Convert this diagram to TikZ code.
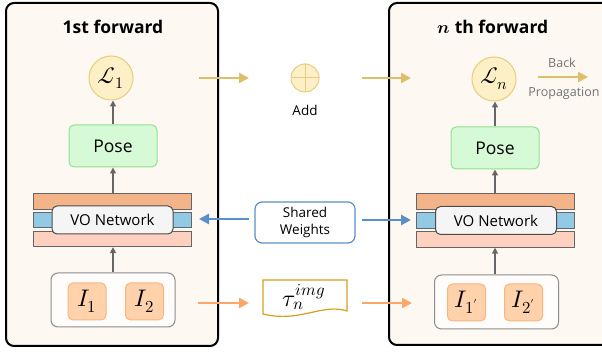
\documentclass[tikz,border=0pt]{standalone}
\usepackage{unicode-math}
\setmainfont{Open Sans}
\setmathfont{Latin Modern Math}
\usetikzlibrary{arrows.meta}

\definecolor{panelbg}{HTML}{FDF9F2}
\definecolor{lossfill}{HTML}{FDEFC6}
\definecolor{lossdraw}{HTML}{E8CD80}
\definecolor{posefill}{HTML}{D6F9D6}
\definecolor{posedraw}{HTML}{93E093}
\definecolor{barorange}{HTML}{F3B48A}
\definecolor{barblue}{HTML}{92C9E4}
\definecolor{barpink}{HTML}{FDD0C0}
\definecolor{imgfill}{HTML}{FFD2AC}
\definecolor{imgdraw}{HTML}{F9B480}
\definecolor{goldarrow}{HTML}{DDBF6A}
\definecolor{bluearrow}{HTML}{5A8FC8}
\definecolor{orangearrow}{HTML}{F9A86A}
\definecolor{taudraw}{HTML}{D4A020}

\tikzset{
  panel/.style={draw=black, line width=2pt, rounded corners=8pt, fill=panelbg},
  title/.style={font=\fontsize{17.5}{20}\selectfont\bfseries},
  loss/.style={circle, draw=lossdraw, fill=lossfill, line width=1pt, minimum size=44pt,
    inner sep=0pt, font=\fontsize{23}{26}\selectfont},
  pose/.style={draw=posedraw, fill=posefill, line width=1pt, rounded corners=5pt,
    minimum width=88pt, minimum height=42pt, font=\fontsize{17.5}{20}\selectfont},
  bar/.style={draw=black!60, line width=0.8pt, minimum width=158pt, minimum height=15.5pt,
    inner sep=0pt},
  vonet/.style={draw=black!70, fill=black!4, line width=1pt, rounded corners=5pt,
    minimum width=121pt, minimum height=28pt, font=\fontsize{15}{17}\selectfont},
  inputbox/.style={draw=black!45, fill=white!70!panelbg, line width=1pt, rounded corners=7pt,
    minimum width=124pt, minimum height=54pt},
  imgbox/.style={draw=imgdraw, fill=imgfill, line width=1pt, rounded corners=5pt,
    minimum width=38pt, minimum height=37pt, font=\fontsize{24}{26}\selectfont},
  flow/.style={draw=black!60, line width=1.4pt, -{Triangle[length=6pt,width=6pt]}},
  bigarrow/.style={line width=2.6pt, -{Triangle[length=10pt,width=10pt]}},
  label/.style={font=\fontsize{13.5}{15}\selectfont},
}

\begin{document}
\begin{tikzpicture}[x=1pt, y=-1pt]
  \useasboundingbox (0,0) rectangle (602,352);

  % panels
  \draw[panel] (6,3) rectangle (218,346);
  \draw[panel] (389,3) rectangle (625,345);
  \node[title] (title1) at (113,27) {1st forward};
  \node[title] (titlen) at (493,27) {$\symbfit{n}$ th forward};

  % first forward
  \node[loss] (loss1) at (111,78) {$\mathcal{L}_1$};
  \node[pose] (pose1) at (113,146) {Pose};
  \node[bar, fill=barorange] (top1) at (112,201.5) {};
  \node[bar, fill=barblue] (mid1) at (112,220) {};
  \node[bar, fill=barpink] (bot1) at (112,239) {};
  \node[vonet] (vo1) at (112.5,220) {VO Network};
  \node[inputbox] (inp1) at (113,300) {};
  \node[imgbox] (img11) at (87,301.5) {$I_1$};
  \node[imgbox] (img12) at (144.5,301.5) {$I_2$};
  \draw[flow] (inp1.north) -- (bot1.south -| inp1.north);
  \draw[flow] (top1.north -| pose1.south) -- (pose1.south);
  \draw[flow] (pose1.north) -- (loss1.south -| pose1.north);

  % n-th forward
  \node[loss] (lossn) at (494,79) {$\mathcal{L}_n$};
  \node[pose] (posen) at (495,148) {Pose};
  \node[bar, fill=barorange] (topn) at (495.5,201.5) {};
  \node[bar, fill=barblue] (midn) at (495.5,220.5) {};
  \node[bar, fill=barpink] (botn) at (495.5,239.5) {};
  \node[vonet] (von) at (496,220.5) {VO Network};
  \node[inputbox] (inpn) at (496.5,302) {};
  \node[imgbox] (imgn1) at (466.5,302.5) {$I_{1'}$};
  \node[imgbox] (imgn2) at (523.5,302.5) {$I_{2'}$};
  \draw[flow] (inpn.north -| posen) -- (botn.south -| posen);
  \draw[flow] (topn.north -| posen) -- (posen.south);
  \draw[flow] (posen.north) -- (lossn.south -| posen.north);

  % middle
  \node[circle, draw=lossdraw, fill=lossfill, line width=1pt, minimum size=28pt,
    inner sep=0pt] (add) at (305,78) {};
  \draw[lossdraw, line width=1pt] (add.north) -- (add.south) (add.west) -- (add.east);
  \node[label] (addtxt) at (305,110) {Add};
  \node[draw=bluearrow, line width=1.2pt, rounded corners=7pt, fill=white,
    minimum width=100pt, minimum height=41pt, align=center, label,
    font=\fontsize{13.5}{17}\selectfont] (shared) at (305,222.5) {Shared\\Weights};
  \draw[draw=taudraw, fill=white, line width=1.2pt]
    (263,280) -- (347,280) -- (347,311)
    .. controls (322,303) and (300,323) .. (263,314) -- cycle;
  \node[font=\fontsize{24}{26}\selectfont] (tau) at (304,297) {$\tau_n^{img}$};

  \coordinate (goldA) at (199,78);
  \coordinate (goldB) at (249,78);
  \coordinate (goldC) at (362,78);
  \coordinate (goldD) at (411,78);
  \coordinate (blueA) at (249,219);
  \coordinate (blueB) at (199,219);
  \coordinate (blueC) at (362,220);
  \coordinate (blueD) at (411,220);
  \coordinate (orA) at (198,303);
  \coordinate (orB) at (249,303);
  \coordinate (orC) at (362,303);
  \coordinate (orD) at (412,303);
  \draw[bigarrow, goldarrow] (goldA) -- (goldB);
  \draw[bigarrow, goldarrow] (goldC) -- (goldD);
  \draw[bigarrow, bluearrow] (blueA) -- (blueB);
  \draw[bigarrow, bluearrow] (blueC) -- (blueD);
  \draw[bigarrow, orangearrow] (orA) -- (orB);
  \draw[bigarrow, orangearrow] (orC) -- (orD);

  % back propagation
  \coordinate (backA) at (538,77);
  \coordinate (backB) at (588,77);
  \draw[bigarrow, goldarrow] (backA) -- (backB);
  \node[text=black!55, font=\fontsize{12.5}{15}\selectfont] (back) at (562,63) {Back};
  \node[text=black!55, font=\fontsize{12.5}{15}\selectfont] (prop) at (564,93) {Propagation};
\end{tikzpicture}
\end{document}
